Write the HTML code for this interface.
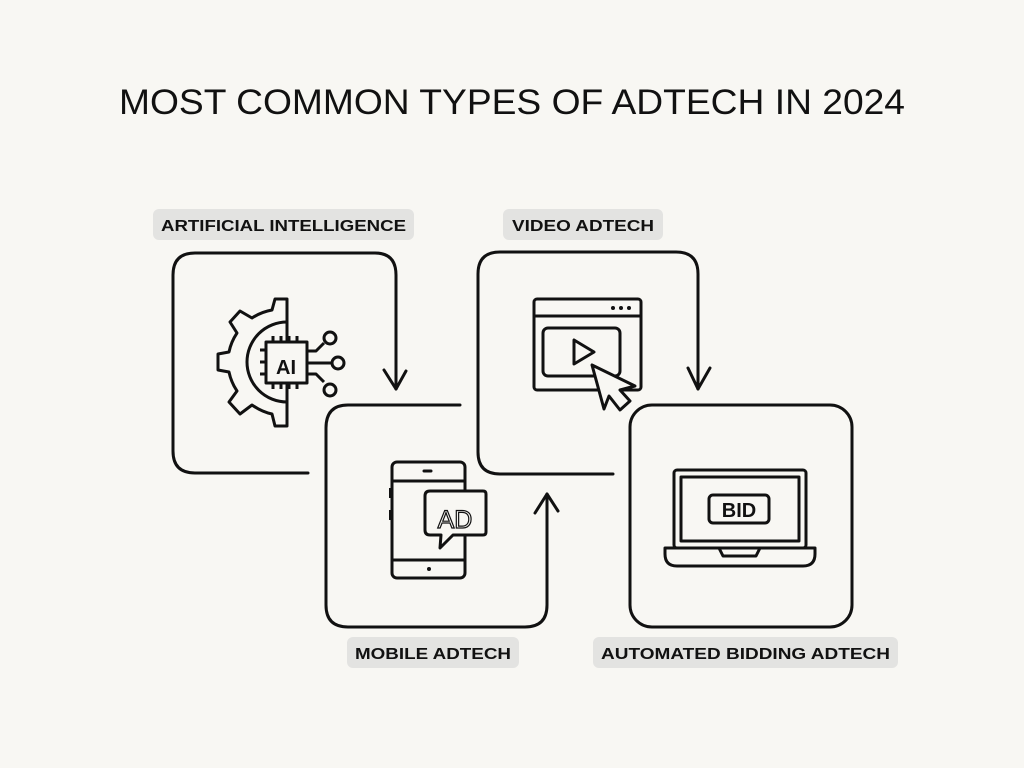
<!DOCTYPE html>
<html><head><meta charset="utf-8"><style>
html,body{margin:0;padding:0;background:#f8f7f3;}
svg{display:block}
text{font-family:"Liberation Sans",sans-serif;fill:#111}
</style></head><body>
<svg width="1024" height="768" viewBox="0 0 1024 768" xmlns="http://www.w3.org/2000/svg">
<rect width="1024" height="768" fill="#f8f7f3"/>
<text x="512" y="114" text-anchor="middle" font-size="35" textLength="786" lengthAdjust="spacingAndGlyphs" style="font-weight:normal">MOST COMMON TYPES OF ADTECH IN 2024</text>

<g fill="#e3e3e1">
<rect x="153" y="209" width="261" height="31" rx="6"/>
<rect x="503" y="209" width="160" height="31" rx="6"/>
<rect x="347" y="637" width="172" height="31" rx="6"/>
<rect x="593" y="637" width="305" height="31" rx="6"/>
</g>
<g font-size="16" font-weight="bold">
<text x="161" y="231" textLength="245" lengthAdjust="spacingAndGlyphs">ARTIFICIAL INTELLIGENCE</text>
<text x="512" y="231" textLength="142" lengthAdjust="spacingAndGlyphs">VIDEO ADTECH</text>
<text x="355" y="659" textLength="156" lengthAdjust="spacingAndGlyphs">MOBILE ADTECH</text>
<text x="601" y="659" textLength="289" lengthAdjust="spacingAndGlyphs">AUTOMATED BIDDING ADTECH</text>
</g>

<g fill="none" stroke="#111" stroke-width="3" stroke-linecap="round" stroke-linejoin="round">
<path d="M308 473 L195 473 Q173 473 173 451 L173 275 Q173 253 195 253 L375 253 Q396 253 396 275 L396 389"/>
<path d="M384 370 L396 389 L406 371"/>
<path d="M460 405 L348 405 Q326 405 326 428 L326 605 Q326 627 348 627 L525 627 Q547 627 547 605 L547 494"/>
<path d="M535 513 L547 494 L558 511"/>
<path d="M613 474 L500 474 Q478 474 478 452 L478 274 Q478 252 500 252 L676 252 Q698 252 698 274 L698 389"/>
<path d="M688 368 L698 389 L710 368"/>
<rect x="630" y="405" width="222" height="222" rx="22"/>
</g>

<!-- AI icon -->
<g fill="none" stroke="#111" stroke-width="3" stroke-linejoin="round">
<path d="M287 342 L287 299 L275 299 L272 310 Q261 312 252 318 L240 311 L230 322 L237 333 Q231 342 229 352 L218 354 L218 370 L229 372 Q231 382 237 391 L229 402 L240 414 L252 405 Q262 412 272 414 L275 426 L287 426 L287 383"/>
<path d="M287 322 A40 40 0 0 0 287 402" />
<rect x="266" y="342" width="41" height="41" fill="#f8f7f3"/>
<path d="M273 342v-6 M281 342v-6 M289 342v-6 M297 342v-6 M273 383v6 M281 383v6 M289 383v6 M297 383v6 M266 350h-6 M266 362h-6 M266 374h-6"/>
<path d="M307 351 L316 351 L324 343 M307 363 L331 363 M307 374 L316 374 L324 382"/>
<circle cx="330" cy="338" r="6"/><circle cx="338" cy="363" r="6"/><circle cx="330" cy="390" r="6"/>
</g>
<text x="286" y="374" font-size="20" font-weight="bold" text-anchor="middle">AI</text>

<!-- video icon -->
<g fill="none" stroke="#111" stroke-width="3" stroke-linejoin="round">
<rect x="534" y="299" width="107" height="91" rx="3"/>
<path d="M534 316 H641"/>
<rect x="543" y="328" width="77" height="48" rx="5"/>
<path d="M574 340 L574 364 L594 352 Z"/>
<path d="M592 365 L604 409 L609 396 L620 410 L630 401 L620 390 L635 386 Z" fill="#f8f7f3"/>
</g>
<g fill="#111"><circle cx="613" cy="308" r="2"/><circle cx="621" cy="308" r="2"/><circle cx="629" cy="308" r="2"/></g>

<!-- phone icon -->
<g fill="none" stroke="#111" stroke-width="3" stroke-linejoin="round">
<rect x="392" y="462" width="73" height="116" rx="5"/>
<path d="M392 481 H465 M392 560 H465"/>
<path d="M430 491 H483 Q486 491 486 494 V532 Q486 535 483 535 H453 L440 548 L441 535 H430 Q425 535 425 530 V496 Q425 491 430 491 Z" fill="#f8f7f3"/>
</g>
<path d="M424 471 h7" stroke="#111" stroke-width="3" stroke-linecap="round"/>
<rect x="389" y="488" width="4" height="10" fill="#111"/><rect x="389" y="510" width="4" height="10" fill="#111"/>
<circle cx="429" cy="569" r="2" fill="#111"/>
<text x="455" y="528" font-size="25" text-anchor="middle" stroke="#111" stroke-width="1.2" style="fill:none">AD</text>

<!-- laptop icon -->
<g fill="none" stroke="#111" stroke-width="3" stroke-linejoin="round">
<rect x="674" y="470" width="132" height="78" rx="3"/>
<rect x="681" y="477" width="118" height="64"/>
<rect x="709" y="495" width="60" height="28" rx="4"/>
<path d="M665 548 H815 V554 Q815 566 803 566 H677 Q665 566 665 554 Z"/>
<path d="M719 548 L723 556 L756 556 L760 548"/>
</g>
<text x="739" y="517" font-size="20" font-weight="bold" text-anchor="middle">BID</text>
</svg>
</body></html>
